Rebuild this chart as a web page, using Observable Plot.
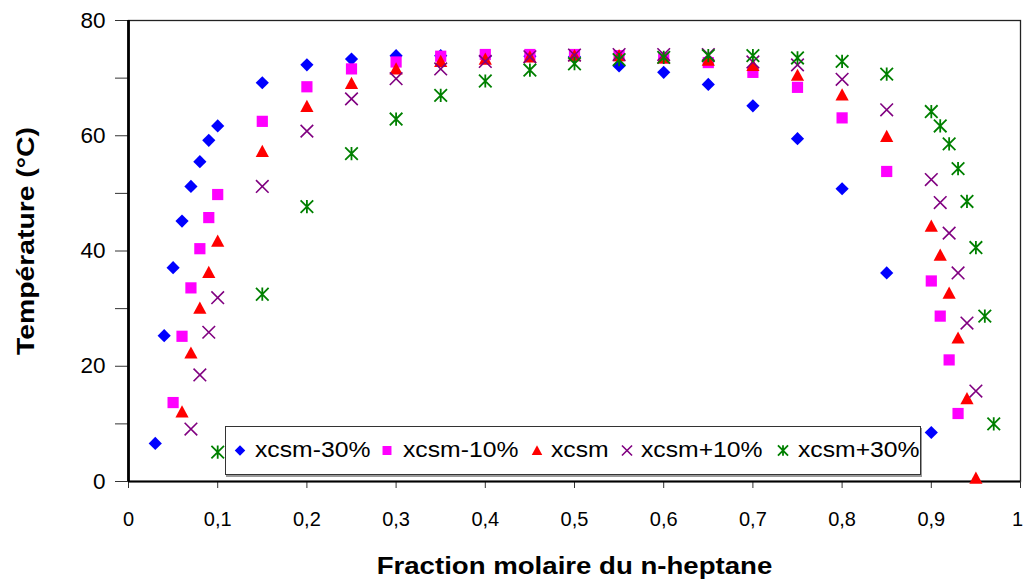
<!DOCTYPE html>
<html><head><meta charset="utf-8">
<script src="https://cdn.jsdelivr.net/npm/d3@7"></script>
<script src="https://cdn.jsdelivr.net/npm/@observablehq/plot@0.6"></script>
<style>
body{margin:0;background:#fff;}
#wrap{position:relative;width:1023px;height:588px;font-family:"Liberation Sans",Arial,Helvetica,sans-serif;}
#legend{position:absolute;left:225px;top:426px;width:694px;height:47px;border:1px solid #333;background:#fff;box-shadow:1px 2px 0 #999;}
.item{position:absolute;top:0;height:47px;display:flex;align-items:center;font-size:21.5px;color:#000;white-space:nowrap;}
.item span{display:inline-block;transform:scaleX(1.15);transform-origin:left center;}
.sym{position:absolute;top:0;}
</style></head><body><div id="wrap"></div>
<script>
// ---- data ----
const seriesNames = ["xcsm-30%", "xcsm-10%", "xcsm", "xcsm+10%", "xcsm+30%"];
const x30m = [0.03,0.04,0.05,0.06,0.07,0.08,0.09,0.10,0.15,0.20,0.25,0.30,0.35,0.40,0.45,0.50,0.55,0.60,0.65,0.70,0.75,0.80,0.85,0.90];
const t30m = [6.6,25.3,37.1,45.2,51.2,55.5,59.2,61.7,69.2,72.3,73.3,73.9,73.9,73.8,73.8,73.7,72.1,71.0,68.9,65.2,59.5,50.8,36.2,8.5];
const x10m = [0.05,0.06,0.07,0.08,0.09,0.10,0.15,0.20,0.25,0.30,0.35,0.40,0.45,0.50,0.55,0.60,0.65,0.70,0.75,0.80,0.85,0.90,0.91,0.92,0.93];
const t10m = [13.7,25.2,33.6,40.4,45.8,49.8,62.5,68.5,71.6,72.8,73.8,74.1,74.1,74.1,73.9,73.5,72.7,71.0,68.4,63.1,53.8,34.8,28.7,21.1,11.8];
const x0 = [0.06,0.07,0.08,0.09,0.10,0.15,0.20,0.25,0.30,0.35,0.40,0.45,0.50,0.55,0.60,0.65,0.70,0.75,0.80,0.85,0.90,0.91,0.92,0.93,0.94,0.95];
const t0 = [12.1,22.3,30.1,36.3,41.7,57.3,65.1,69.1,71.6,72.9,73.3,73.7,73.9,73.9,73.5,73.1,72.2,70.5,67.1,59.9,44.3,39.3,32.7,24.9,14.4,0.6];
const x10p = [0.07,0.08,0.09,0.10,0.15,0.20,0.25,0.30,0.35,0.40,0.45,0.50,0.55,0.60,0.65,0.70,0.75,0.80,0.85,0.90,0.91,0.92,0.93,0.94,0.95];
const t10p = [9.1,18.5,25.9,31.9,51.2,60.8,66.4,69.9,71.6,72.9,73.7,74.0,74.1,74.1,74.1,72.8,72.3,69.8,64.5,52.4,48.4,43.1,36.2,27.5,15.7];
const x30p = [0.10,0.15,0.20,0.25,0.30,0.35,0.40,0.45,0.50,0.55,0.60,0.65,0.70,0.75,0.80,0.85,0.90,0.91,0.92,0.93,0.94,0.95,0.96,0.97];
const t30p = [5.1,32.5,47.7,56.9,62.9,67.0,69.5,71.4,72.5,73.2,73.6,73.9,73.9,73.5,72.9,70.7,64.2,61.7,58.6,54.3,48.6,40.6,28.7,10.0];
const xTicks = [0,0.1,0.2,0.3,0.4,0.5,0.6,0.7,0.8,0.9,1];
const xTickLabels = ["0","0,1","0,2","0,3","0,4","0,5","0,6","0,7","0,8","0,9","1"];
const yTicks = [0,20,40,60,80];
const yMinorTicks = [10,30,50,70];
const xLabel = "Fraction molaire du n-heptane";
const yLabel = "Température (°C)";

// ---- symbols (size -> half extent) ----
const he = s => Math.sqrt(s / Math.PI);
const symDiamond = {draw(c, s){const r = he(s); c.moveTo(0,-r); c.lineTo(r,0); c.lineTo(0,r); c.lineTo(-r,0); c.closePath();}};
const symSquare = {draw(c, s){const r = he(s); c.rect(-r,-r,2*r,2*r);}};
const symTriangle = {draw(c, s){const r = he(s); c.moveTo(0,-r); c.lineTo(r,r*0.85); c.lineTo(-r,r*0.85); c.closePath();}};
const symTimes = {draw(c, s){const r = he(s); c.moveTo(-r,-r); c.lineTo(r,r); c.moveTo(-r,r); c.lineTo(r,-r);}};
const symStar = {draw(c, s){const r = he(s); c.moveTo(-r,-r); c.lineTo(r,r); c.moveTo(-r,r); c.lineTo(r,-r); c.moveTo(0,-r*1.05); c.lineTo(0,r*1.05);}};

const styles = [
  {sym: symDiamond, color: "#0000FF", r: 6.6, fill: true},
  {sym: symSquare, color: "#FF00FF", r: 5.6, fill: true},
  {sym: symTriangle, color: "#FF0000", r: 6.6, fill: true},
  {sym: symTimes, color: "#800080", r: 6.3, fill: false, sw: 1.6},
  {sym: symStar, color: "#008000", r: 6.3, fill: false, sw: 1.8}
];
const xsList = [x30m, x10m, x0, x10p, x30p];
const tsList = [t30m, t10m, t0, t10p, t30p];
const tables = xsList.map((xs, i) => xs.map((x, j) => ({x, t: tsList[i][j], s: seriesNames[i]})));

const dotMarks = tables.map((tb, i) => {
  const st = styles[i];
  return Plot.dot(tb, st.fill
    ? {x: "x", y: "t", symbol: st.sym, r: st.r, fill: st.color, stroke: "none"}
    : {x: "x", y: "t", symbol: st.sym, r: st.r, fill: "none", stroke: st.color, strokeWidth: st.sw});
});

const chart = Plot.plot({
  width: 1023, height: 588,
  marginLeft: 128, marginRight: 3, marginTop: 20, marginBottom: 107,
  style: {fontFamily: "'Liberation Sans', Arial, Helvetica, sans-serif", background: "#fff", color: "#000"},
  x: {domain: [0, 1]},
  y: {domain: [0, 80]},
  marks: [
    Plot.frame({stroke: "#222", strokeWidth: 1.3}),
    Plot.axisY({ticks: yTicks, tickSize: 13, tickPadding: 10, fontSize: 22.5, label: null, stroke: "#333"}),
    Plot.axisY({ticks: yMinorTicks, tickSize: 13, tickFormat: () => "", label: null, stroke: "#333"}),
    Plot.axisX({ticks: xTicks, tickSize: 7, tickPadding: 23, fontSize: 20, label: null, stroke: "#333",
      tickFormat: d => xTickLabels[xTicks.findIndex(v => Math.abs(v - d) < 1e-9)]}),
    Plot.ruleX([0], {stroke: "#000", strokeWidth: 2.8}),
    Plot.ruleY([0], {stroke: "#000", strokeWidth: 1.8}),
    Plot.text([yLabel], {text: d => d, frameAnchor: "left", textAnchor: "middle", dx: -102, dy: -10, rotate: -90, fontSize: 24, fontWeight: "bold", fill: "#000"}),
    Plot.text([xLabel], {text: d => d, frameAnchor: "bottom", dy: 92, fontSize: 23, fontWeight: "bold", fill: "#000"}),
    ...dotMarks
  ]
});
const wrap = document.getElementById("wrap");
wrap.appendChild(chart);

// stretch titles like the reference
chart.querySelectorAll("text").forEach(t => {
  if (t.textContent === xLabel) {
    t.setAttribute("textLength", t.getComputedTextLength() * 1.2);
    t.setAttribute("lengthAdjust", "spacingAndGlyphs");
  } else if (t.textContent === yLabel) {
    t.setAttribute("textLength", t.getComputedTextLength() * 1.18);
    t.setAttribute("lengthAdjust", "spacingAndGlyphs");
  }
});
// keep the last x tick label ("1") inside the page
chart.querySelectorAll('g[aria-label="x-axis tick label"] text').forEach(t => {
  if (t.textContent === xTickLabels[xTickLabels.length - 1]) t.setAttribute("dx", "-3");
});

// ---- legend ----
const legend = document.createElement("div");
legend.id = "legend";
wrap.appendChild(legend);
const symX = [14, 161, 311, 401, 557];
const txtX = [29, 177, 325, 415, 572];
styles.forEach((st, i) => {
  const d = d3.symbol(st.sym, Math.PI * (st.r * 0.8) ** 2)();
  const sv = d3.create("svg").attr("class", "sym").attr("width", 20).attr("height", 47)
    .style("left", (symX[i] - 10) + "px");
  sv.append("path").attr("d", d).attr("transform", "translate(10,23.5)")
    .attr("fill", st.fill ? st.color : "none").attr("stroke", st.fill ? "none" : st.color)
    .attr("stroke-width", st.sw || 0);
  legend.appendChild(sv.node());
  const it = document.createElement("div");
  it.className = "item";
  it.style.left = txtX[i] + "px";
  it.innerHTML = "<span>" + seriesNames[i] + "</span>";
  legend.appendChild(it);
});
</script></body></html>
